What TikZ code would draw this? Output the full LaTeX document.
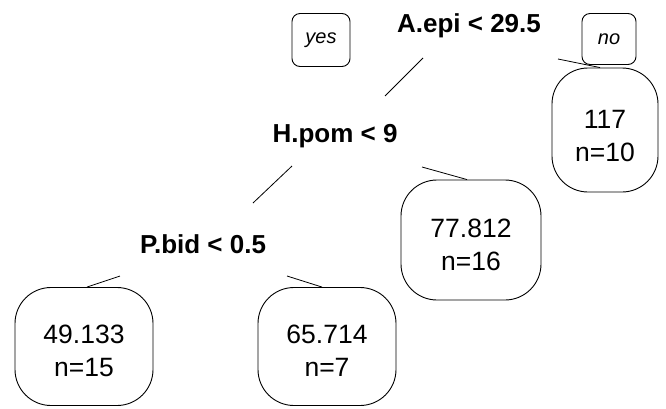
\documentclass[tikz,border=0pt]{standalone}
\usepackage{fontspec}
\setmainfont{Liberation Sans}
\begin{document}
\begin{tikzpicture}[x=1pt,y=-1pt,
  splitlab/.style={font=\fontsize{26}{30}\selectfont\bfseries, inner sep=0pt, anchor=base},
  leafbox/.style={draw, line width=0.9pt, rounded corners=36pt, inner sep=0pt},
  leaftext/.style={align=center, font=\fontsize{26.5}{33}\selectfont, inner sep=0pt},
  yesno/.style={draw, line width=0.9pt, rounded corners=8pt, inner sep=0pt,
     font=\fontsize{20}{22}\selectfont\itshape},
  branch/.style={line width=0.8pt}]
\useasboundingbox (0,0) rectangle (666,408);
% split labels
\node[splitlab] (s1) at (469,32) {A.epi < 29.5};
\node[splitlab] (s2) at (335,142) {H.pom < 9};
\node[splitlab] (s3) at (203,253) {P.bid < 0.5};
% yes / no
\node[yesno, minimum width=58pt, minimum height=53pt] (yes) at (321,40) {yes};
\node[yesno, minimum width=54pt, minimum height=51pt] (no) at (609,39) {no};
% leaves
\node[leafbox, minimum width=106pt, minimum height=124pt] (l117) at (605,130) {};
\node[leafbox, minimum width=140pt, minimum height=120pt] (l77) at (471,240) {};
\node[leafbox, minimum width=138pt, minimum height=118pt] (l49) at (84,346.5) {};
\node[leafbox, minimum width=138pt, minimum height=118pt] (l65) at (327,346.5) {};
\node[leaftext] (t117) at ([yshift=-6pt]l117.center) {117\\n=10};
\node[leaftext] (t77) at ([yshift=-4.5pt]l77.center) {77.812\\n=16};
\node[leaftext] (t49) at ([yshift=-4.5pt]l49.center) {49.133\\n=15};
\node[leaftext] (t65) at ([yshift=-4.5pt]l65.center) {65.714\\n=7};
% branch end points
\coordinate (a1) at (423,58);
\coordinate (a2) at (385,96);
\coordinate (b1) at (558,59);
\coordinate (b2) at ([xshift=-5pt]l117.north);
\coordinate (c1) at (292,166);
\coordinate (c2) at (253,203);
\coordinate (d1) at (422,167);
\coordinate (d2) at ([xshift=-4pt]l77.north);
\coordinate (e1) at (120,276);
\coordinate (e2) at ([xshift=3pt]l49.north);
\coordinate (f1) at (287,276);
\coordinate (f2) at ([xshift=-5pt]l65.north);
\draw[branch] (a1) -- (a2);
\draw[branch] (b1) -- (b2);
\draw[branch] (c1) -- (c2);
\draw[branch] (d1) -- (d2);
\draw[branch] (e1) -- (e2);
\draw[branch] (f1) -- (f2);
\end{tikzpicture}
\end{document}
